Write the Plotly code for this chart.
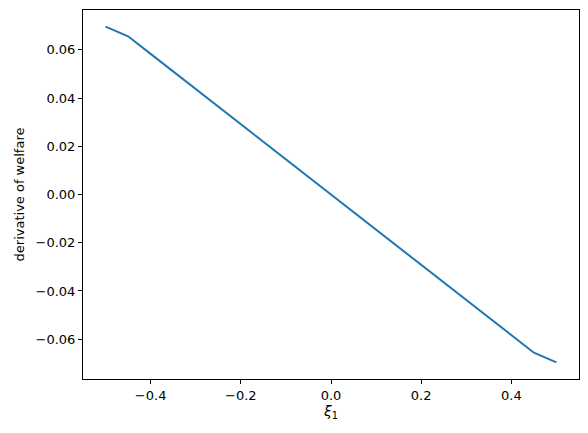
import plotly.graph_objects as go

xi = [-0.5, -0.45, -0.4, -0.35, -0.3, -0.25, -0.2, -0.15, -0.1, -0.05, 0.0,
      0.05, 0.1, 0.15, 0.2, 0.25, 0.3, 0.35, 0.4, 0.45, 0.5]
dwelfare = [0.0696, 0.0656, 0.0583, 0.0510, 0.0437, 0.0364, 0.0292, 0.0219, 0.0146, 0.0073, 0.0,
            -0.0073, -0.0146, -0.0219, -0.0292, -0.0364, -0.0437, -0.0510, -0.0583, -0.0656, -0.0696]

x_ticks = [-0.4, -0.2, 0.0, 0.2, 0.4]
y_ticks = [-0.06, -0.04, -0.02, 0.0, 0.02, 0.04, 0.06]

fig = go.Figure()
fig.add_trace(go.Scatter(x=xi, y=dwelfare, mode="lines",
                         line=dict(color="#1f77b4", width=2), showlegend=False))

axis_common = dict(showgrid=False, zeroline=False, showline=True, linecolor="black",
                   linewidth=1, mirror=True, ticks="outside", ticklen=4, tickwidth=1,
                   tickcolor="black", tickfont=dict(family="DejaVu Sans", size=13, color="black"))

fig.update_xaxes(range=[-0.55, 0.55], tickvals=x_ticks, tickformat=".1f",
                 title=dict(text="<i>ξ</i><sub>1</sub>", font=dict(family="DejaVu Sans", size=14, color="black"), standoff=4),
                 **axis_common)
fig.update_yaxes(range=[-0.0765, 0.0765], tickvals=y_ticks, tickformat=".2f",
                 title=dict(text="derivative of welfare", font=dict(family="DejaVu Sans", size=13, color="black"), standoff=8),
                 **axis_common)

fig.update_layout(width=588, height=433, margin=dict(l=83, r=9, t=10, b=54),
                  plot_bgcolor="white", paper_bgcolor="white",
                  font=dict(family="DejaVu Sans", size=13, color="black"))

fig.write_html("out.html", config={"displayModeBar": False},
               post_script="document.body.style.margin='0';document.body.style.overflow='hidden';")
